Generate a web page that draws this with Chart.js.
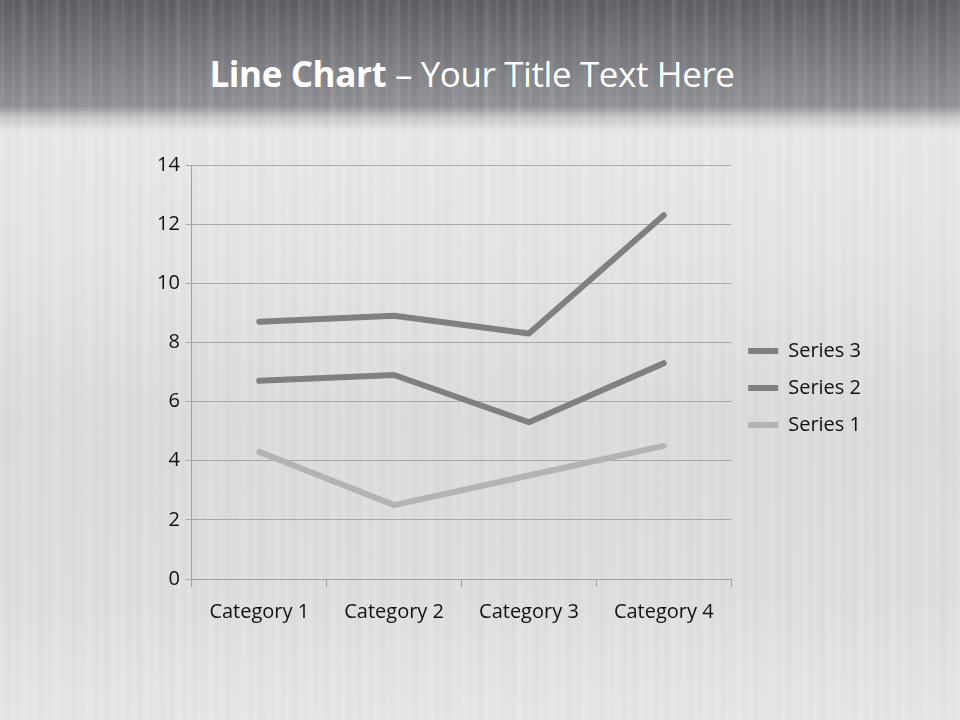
<!DOCTYPE html>
<html>
<head>
<meta charset="utf-8">
<script src="https://cdn.jsdelivr.net/npm/chart.js@4/dist/chart.umd.min.js"></script>
<style>
  html, body { margin: 0; padding: 0; }
  body {
    width: 960px; height: 720px; position: relative; overflow: hidden;
    background:
      repeating-linear-gradient(90deg, rgba(255,255,255,0) 0px, rgba(255,255,255,0.08) 2px, rgba(255,255,255,0) 5px, rgba(0,0,0,0.012) 8px, rgba(255,255,255,0) 11px),
      repeating-linear-gradient(90deg, rgba(0,0,0,0) 0px, rgba(0,0,0,0.012) 17px, rgba(255,255,255,0.05) 23px, rgba(0,0,0,0) 31px),
      linear-gradient(180deg, #5d5e62 0px, #76777b 50px, #909196 106px, #c6c6c8 117px, #e8e8e8 132px, #e4e4e4 250px, #dbdbdb 420px, #dedede 600px, #e6e6e6 720px);
  }
  #title {
    position: absolute; left: 0; top: 50px; width: 944px; text-align: center;
    font-family: "Open Sans", sans-serif; font-size: 35px; color: #fff;
    letter-spacing: -0.4px;
  }
  #title b { font-weight: 700; }
  canvas { position: absolute; left: 0; top: 0; }
</style>
</head>
<body>
<div id="title"><b>Line Chart</b> – Your Title Text Here</div>
<canvas id="lineChart" width="960" height="720"></canvas>
<script>
// categories and series (stacked line chart)
const categories = ['Category 1', 'Category 2', 'Category 3', 'Category 4'];
const series1 = [4.3, 2.5, 3.5, 4.5];
const series2 = [2.4, 4.4, 1.8, 2.8];
const series3 = [2, 2, 3, 5];
const yTicks = [0, 2, 4, 6, 8, 10, 12, 14];

function drawLineChart() {
  const ctx = document.getElementById('lineChart').getContext('2d');
  const line = (label, data, color) => ({
    label, data,
    borderColor: color,
    backgroundColor: color,
    borderWidth: 6,
    borderCapStyle: 'round',
    borderJoinStyle: 'round',
    pointRadius: 0,
    pointStyle: 'line',
    fill: false,
    tension: 0
  });
  new Chart(ctx, {
    type: 'line',
    data: {
      labels: categories,
      datasets: [
        line('Series 1', series1, '#b3b3b3'),
        line('Series 2', series2, '#808080'),
        line('Series 3', series3, '#808080')
      ]
    },
    options: {
      responsive: false,
      animation: false,
      layout: { padding: { top: 165, bottom: 83, left: 151, right: 89 } },
      plugins: {
        legend: {
          position: 'right',
          reverse: true,
          align: 'start',
          // empty title just pushes the entries down to sit beside the plot
          title: { display: true, text: ' ', font: { size: 10 }, padding: { top: 147, bottom: 0 } },
          labels: {
            usePointStyle: true,
            pointStyleWidth: 30,
            boxHeight: 6,
            padding: 17,
            color: '#111',
            font: { family: 'Open Sans', size: 20 }
          }
        },
        tooltip: { enabled: false }
      },
      scales: {
        x: {
          offset: true,
          grid: { offset: true, drawOnChartArea: false, drawTicks: true, tickLength: 8, color: '#a0a0a0' },
          border: { color: '#a0a0a0' },
          ticks: { color: '#111', padding: 13, font: { family: 'Open Sans', size: 20 } }
        },
        y: {
          stacked: true,
          min: 0, max: 14,
          afterBuildTicks: axis => { axis.ticks = yTicks.map(v => ({ value: v })); },
          grid: { color: '#a8a8a8', tickLength: 6 },
          border: { color: '#a0a0a0' },
          ticks: { color: '#111', padding: 6, font: { family: 'Open Sans', size: 20 } }
        }
      }
    }
  });
}

drawLineChart();
</script>
</body>
</html>
